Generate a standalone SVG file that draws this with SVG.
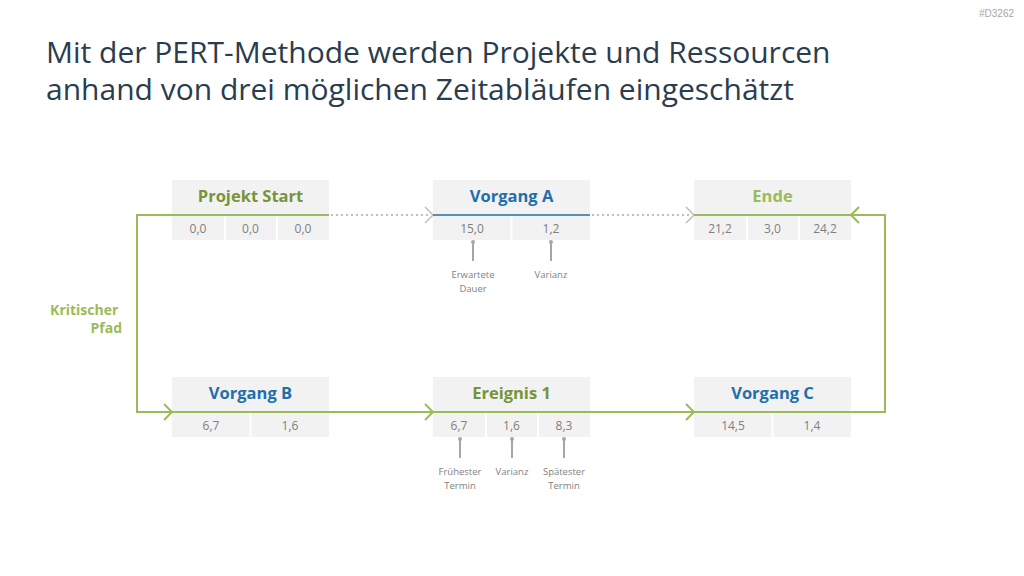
<svg xmlns="http://www.w3.org/2000/svg" width="1024" height="576" viewBox="0 0 1024 576">
<defs>
<style>
.bg{fill:#f2f2f2}
.div{stroke:#ffffff;stroke-width:2}
.hd{font-family:"Open Sans","Liberation Sans",sans-serif;font-weight:700;font-size:16.5px;text-anchor:middle}
.num{font-family:"Open Sans","Liberation Sans",sans-serif;font-size:12px;fill:#7f7f7f;text-anchor:middle}
.lbl{font-family:"Open Sans","Liberation Sans",sans-serif;font-size:9.5px;fill:#7f7f7f;text-anchor:middle}
.g1{fill:#77933c}
.g2{fill:#9bbb59}
.bl{fill:#1f6fad}
.crit{fill:none;stroke:#9bbb59;stroke-width:2}
.dot{fill:none;stroke:#bfbfbf;stroke-width:2;stroke-dasharray:2 3}
.chg{fill:none;stroke:#bfbfbf;stroke-width:1.5}
.stem{stroke:#a6a6a6;stroke-width:2}
.pin{fill:#a6a6a6}
</style>
</defs>
<rect width="1024" height="576" fill="#ffffff"/>
<text x="1014" y="17" font-family="Liberation Sans,sans-serif" font-size="10" fill="#a6a6a6" text-anchor="end">#D3262</text>
<text font-family="'Open Sans','Liberation Sans',sans-serif" font-size="30" fill="#2b3c4e">
<tspan x="46" y="63">Mit der PERT-Methode werden Projekte und Ressourcen</tspan>
<tspan x="46" y="100">anhand von drei möglichen Zeitabläufen eingeschätzt</tspan>
</text>

<g id="node-projekt-start">
<rect class="bg" x="172" y="180" width="157" height="60"/>
<line class="div" x1="225" y1="216" x2="225" y2="240"/>
<line class="div" x1="277" y1="216" x2="277" y2="240"/>
<text class="hd g1" x="250.5" y="202">Projekt Start</text>
<text class="num" x="198" y="233">0,0</text>
<text class="num" x="250.5" y="233">0,0</text>
<text class="num" x="303" y="233">0,0</text>
</g>
<g id="node-vorgang-a">
<rect class="bg" x="433" y="180" width="157" height="60"/>
<line class="div" x1="511.5" y1="216" x2="511.5" y2="240"/>
<text class="hd bl" x="511.5" y="202">Vorgang A</text>
<text class="num" x="472" y="233">15,0</text>
<text class="num" x="551" y="233">1,2</text>
</g>
<g id="node-ende">
<rect class="bg" x="694" y="180" width="157" height="60"/>
<line class="div" x1="747" y1="216" x2="747" y2="240"/>
<line class="div" x1="799" y1="216" x2="799" y2="240"/>
<text class="hd g2" x="772.5" y="202">Ende</text>
<text class="num" x="720" y="233">21,2</text>
<text class="num" x="772.5" y="233">3,0</text>
<text class="num" x="825" y="233">24,2</text>
</g>
<g id="node-vorgang-b">
<rect class="bg" x="172" y="377" width="157" height="60"/>
<line class="div" x1="250.5" y1="413" x2="250.5" y2="437"/>
<text class="hd bl" x="250.5" y="399">Vorgang B</text>
<text class="num" x="211" y="430">6,7</text>
<text class="num" x="290" y="430">1,6</text>
</g>
<g id="node-ereignis-1">
<rect class="bg" x="433" y="377" width="157" height="60"/>
<line class="div" x1="486" y1="413" x2="486" y2="437"/>
<line class="div" x1="538" y1="413" x2="538" y2="437"/>
<text class="hd g1" x="511.5" y="399">Ereignis 1</text>
<text class="num" x="459" y="430">6,7</text>
<text class="num" x="511.5" y="430">1,6</text>
<text class="num" x="564" y="430">8,3</text>
</g>
<g id="node-vorgang-c">
<rect class="bg" x="694" y="377" width="157" height="60"/>
<line class="div" x1="772.5" y1="413" x2="772.5" y2="437"/>
<text class="hd bl" x="772.5" y="399">Vorgang C</text>
<text class="num" x="733" y="430">14,5</text>
<text class="num" x="812" y="430">1,4</text>
</g>

<g id="connectors">
<polyline class="crit" points="329,215 137,215 137,412 172,412"/>
<polyline class="crit" points="164,404 172,412 164,420"/>
<line class="dot" x1="331" y1="215" x2="431" y2="215"/>
<polyline class="chg" points="425,207 433,215 425,223"/>
<line x1="433" y1="215" x2="590" y2="215" stroke="#1f6fad" stroke-width="1.5"/>
<line class="dot" x1="592" y1="215" x2="692" y2="215"/>
<polyline class="chg" points="686,207 694,215 686,223"/>
<polyline class="crit" points="694,215 885,215 885,412 172,412"/>
<polyline class="crit" points="859,207 851,215 859,223"/>
<polyline class="crit" points="425,404 433,412 425,420"/>
<polyline class="crit" points="686,404 694,412 686,420"/>
</g>

<g id="annotations">
<line class="stem" x1="473" y1="242" x2="473" y2="261"/>
<circle class="pin" cx="473" cy="242" r="2"/>
<line class="stem" x1="551" y1="242" x2="551" y2="261"/>
<circle class="pin" cx="551" cy="242" r="2"/>
<text class="lbl" x="473" y="278">Erwartete</text>
<text class="lbl" x="473" y="292">Dauer</text>
<text class="lbl" x="551" y="278">Varianz</text>
<line class="stem" x1="460" y1="439" x2="460" y2="458"/>
<circle class="pin" cx="460" cy="439" r="2"/>
<line class="stem" x1="512" y1="439" x2="512" y2="458"/>
<circle class="pin" cx="512" cy="439" r="2"/>
<line class="stem" x1="564" y1="439" x2="564" y2="458"/>
<circle class="pin" cx="564" cy="439" r="2"/>
<text class="lbl" x="460" y="475">Frühester</text>
<text class="lbl" x="460" y="489">Termin</text>
<text class="lbl" x="512" y="475">Varianz</text>
<text class="lbl" x="564" y="475">Spätester</text>
<text class="lbl" x="564" y="489">Termin</text>
</g>

<text font-family="'Open Sans','Liberation Sans',sans-serif" font-weight="700" font-size="14" fill="#9bbb59" text-anchor="end">
<tspan x="122" y="315">Kritischer</tspan>
<tspan x="122" y="333">Pfad</tspan>
</text>
</svg>
